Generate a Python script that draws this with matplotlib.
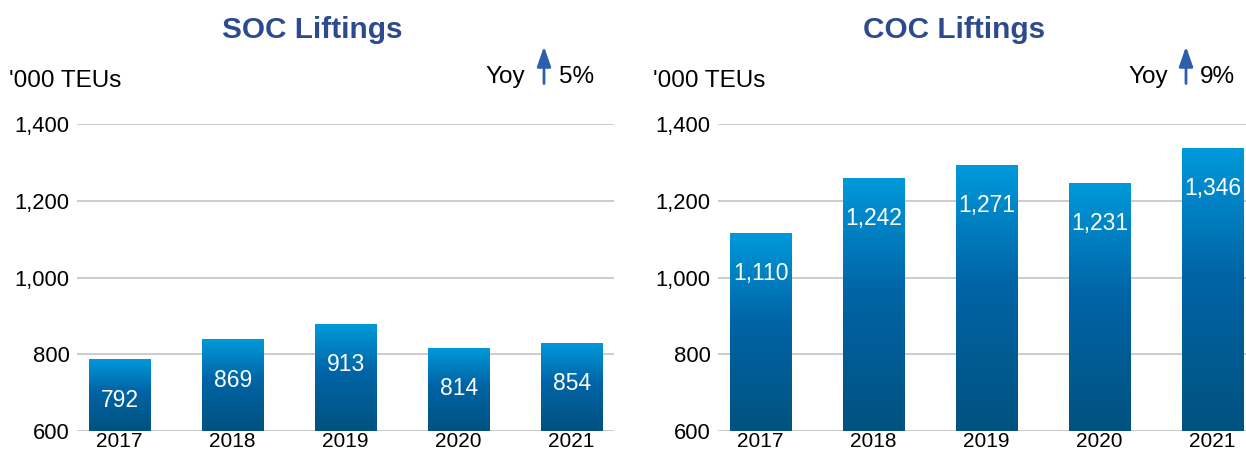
import matplotlib.pyplot as plt
import numpy as np
from matplotlib.colors import LinearSegmentedColormap

plt.rcParams['font.family'] = ['Liberation Sans', 'DejaVu Sans']

years = ['2017', '2018', '2019', '2020', '2021']
# bar heights as drawn in the picture, and the printed labels
soc_heights = [785, 837, 877, 815, 828]
soc_labels = [792, 869, 913, 814, 854]
coc_heights = [1114, 1258, 1292, 1245, 1336]
coc_labels = [1110, 1242, 1271, 1231, 1346]
yticks = [600, 800, 1000, 1200, 1400]

W, H = 1246, 450
title_col = '#2D4A8E'
arrow_col = '#2B5FAD'
grad = LinearSegmentedColormap.from_list(
    'bar', [(0, '#00527F'), (0.55, '#0064A6'), (1, '#0099DA')])


def draw_panel(ax, heights, labels):
    x = np.arange(len(years))
    w = 0.54
    g = np.linspace(0, 1, 256).reshape(-1, 1)
    for xi, h, lab in zip(x, heights, labels):
        ax.imshow(g, cmap=grad, origin='lower', aspect='auto',
                  extent=[xi - w / 2, xi + w / 2, 600, h], zorder=2)
        ax.annotate(f'{lab:,}', (xi, h), xytext=(0, -33.5), textcoords='offset points',
                    ha='center', va='baseline', color='white', fontsize=16.5, zorder=3)
    ax.set_xlim(-0.38, 4.375)
    ax.set_ylim(600, 1400)
    ax.set_yticks(yticks)
    ax.set_yticklabels([f'{v:,}' for v in yticks])
    ax.set_xticks(x)
    ax.set_xticklabels(years)
    ax.tick_params(axis='y', length=0, pad=5, labelsize=15.8)
    ax.tick_params(axis='x', length=0, pad=0.5, labelsize=15)
    ax.grid(axis='y', color='#C8C8C8', lw=1.3, zorder=0)
    ax.set_axisbelow(True)
    for s in ax.spines.values():
        s.set_visible(False)


fig = plt.figure(figsize=(W / 100, H / 100), dpi=100)
ax1 = fig.add_axes([76.7 / W, 1 - 431.3 / H, 537.3 / W, 307.3 / H])
ax2 = fig.add_axes([717.7 / W, 1 - 431.3 / H, 537.3 / W, 307.3 / H])
draw_panel(ax1, soc_heights, soc_labels)
draw_panel(ax2, coc_heights, coc_labels)


def px(xp, yp):
    return xp / W, 1 - yp / H


for title, cx in [('SOC Liftings', 312.6), ('COC Liftings', 954)]:
    fig.text(*px(cx, 38), title, ha='center', va='baseline',
             fontsize=21.4, fontweight='bold', color=title_col)

for ux in [8.7, 653]:
    fig.text(*px(ux, 87.3), "'000 TEUs", ha='left', va='baseline', fontsize=17.5)

for yoy_r, ax_x, pct_l, pct in [(525, 544, 559, '5%'), (1168, 1186, 1200, '9%')]:
    fig.text(*px(yoy_r, 83.3), 'Yoy', ha='right', va='baseline', fontsize=17.5)
    fig.text(*px(pct_l, 83.3), pct, ha='left', va='baseline', fontsize=17.5)
    fig.add_artist(plt.matplotlib.patches.FancyArrowPatch(
        px(ax_x, 83.5), px(ax_x, 46.5), transform=fig.transFigure,
        arrowstyle='-|>,head_length=0.8,head_width=0.28', mutation_scale=15,
        color=arrow_col, lw=2.0, shrinkA=0, shrinkB=0))

fig.savefig('out.png', dpi=100)
